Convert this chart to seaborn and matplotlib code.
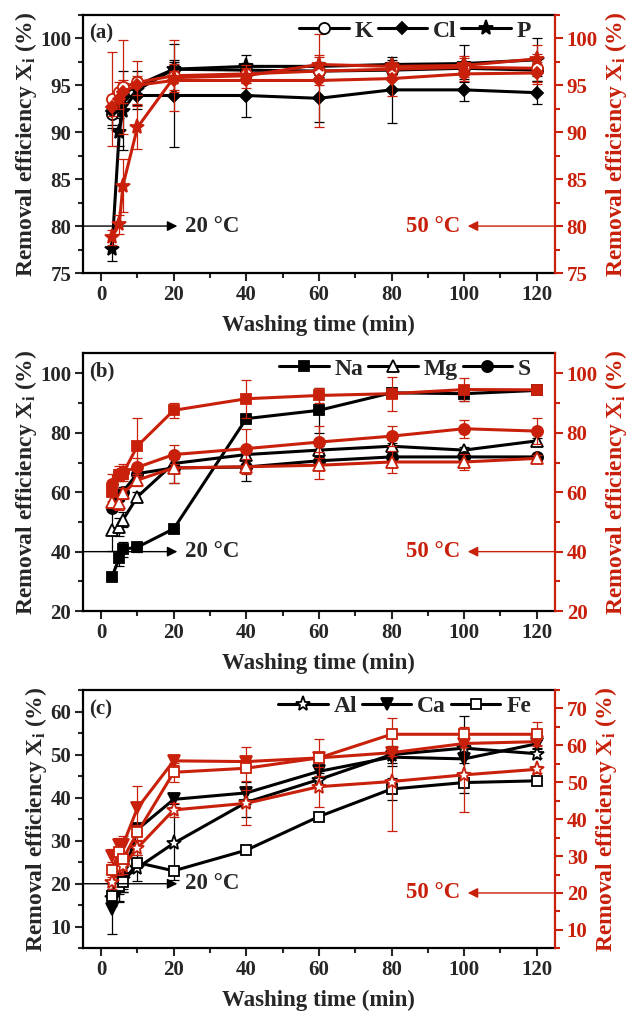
import matplotlib
matplotlib.use('Agg')
import matplotlib.pyplot as plt
import seaborn as sns
from matplotlib.lines import Line2D
from matplotlib.ticker import MultipleLocator

sns.set_theme(style='ticks')
plt.rcParams['font.family'] = ['Liberation Serif', 'DejaVu Serif']
plt.rcParams['font.weight'] = 'bold'
plt.rcParams['axes.labelweight'] = 'bold'
plt.rcParams['mathtext.fontset'] = 'custom'
plt.rcParams['mathtext.rm'] = 'Liberation Serif'
plt.rcParams['mathtext.bf'] = 'Liberation Serif:bold'

red = '#C8200A'
time = [3, 5, 6, 10, 20, 40, 60, 80, 100, 120]

# (a) K, Cl, P
k_20 = [91.9, 93.3, 94.0, 95.0, 96.7, 96.6, 96.5, 96.6, 96.8, 96.6]
k_20_err = [1.5, 1.0, 0.8, 0.8, 0.8, 0.8, 0.6, 0.4, 0.5, 0.6]
cl_20 = [92.3, 93.2, 93.7, 93.9, 93.9, 93.9, 93.6, 94.5, 94.5, 94.2]
cl_20_err = [1.5, 1.2, 1.5, 1.0, 5.5, 2.3, 2.5, 3.5, 1.2, 1.2]
p_20 = [77.6, 90.0, 92.3, 94.5, 96.7, 97.0, 97.0, 97.2, 97.3, 97.7]
p_20_err = [1.3, 1.5, 4.2, 2.0, 1.0, 1.2, 0.5, 0.5, 2.0, 2.3]
k_50 = [93.5, 94.3, 94.8, 95.3, 96.0, 96.2, 96.5, 96.7, 96.9, 96.8]
k_50_err = [5.0, 1.0, 5.0, 2.3, 3.8, 1.0, 1.5, 0.6, 1.0, 1.5]
cl_50 = [92.7, 93.5, 94.3, 95.0, 95.5, 95.5, 95.5, 95.7, 96.2, 96.3]
cl_50_err = [1.0, 1.0, 1.2, 1.0, 1.0, 0.8, 5.0, 1.8, 0.8, 1.2]
p_50 = [78.8, 80.2, 84.3, 90.5, 95.8, 96.0, 97.2, 97.0, 97.1, 97.8]
p_50_err = [0.8, 1.0, 2.8, 2.3, 1.5, 0.8, 1.0, 0.5, 1.0, 1.5]

# (b) Na, Mg, S
na_20 = [31.6, 37.8, 40.8, 41.5, 47.7, 84.8, 87.6, 93.5, 93.2, 94.3]
na_20_err = [1.0, 2.5, 2.5, 1.5, 1.0, 1.0, 7.5, 1.0, 2.5, 1.0]
mg_20 = [47.3, 48.2, 50.7, 58.5, 69.7, 72.7, 74.2, 75.5, 74.2, 77.3]
mg_20_err = [7.0, 3.0, 2.5, 1.5, 1.5, 1.5, 1.5, 1.0, 1.0, 1.0]
s_20 = [54.6, 58.5, 60.2, 66.3, 68.2, 68.5, 70.6, 71.9, 71.9, 71.9]
s_20_err = [1.0, 1.5, 1.5, 1.0, 5.0, 4.7, 2.5, 1.0, 1.0, 1.0]
na_50 = [60.2, 65.8, 66.3, 75.6, 87.6, 91.5, 92.6, 93.2, 94.6, 94.5]
na_50_err = [3.0, 2.0, 2.5, 9.5, 2.5, 6.4, 2.5, 5.7, 4.0, 1.0]
mg_50 = [56.8, 56.5, 59.6, 64.1, 68.2, 68.6, 69.1, 70.2, 70.2, 71.4]
mg_50_err = [2.0, 2.5, 2.0, 2.0, 5.0, 2.5, 4.5, 3.6, 2.8, 1.0]
s_50 = [62.8, 66.3, 66.9, 68.4, 72.7, 74.7, 76.9, 78.9, 81.4, 80.6]
s_50_err = [3.5, 2.5, 2.5, 3.0, 3.3, 6.7, 5.5, 3.3, 3.0, 4.4]

# (c) Al, Ca, Fe
al_20 = [16.8, 20.0, 21.0, 23.7, 29.4, 38.9, 44.2, 50.0, 51.5, 50.2]
al_20_err = [2.0, 4.0, 3.0, 3.0, 8.5, 3.5, 1.5, 2.0, 7.4, 1.0]
ca_20 = [14.1, 18.7, 21.0, 32.6, 39.6, 41.1, 46.1, 49.4, 49.0, 52.5]
ca_20_err = [5.8, 3.0, 3.0, 1.0, 1.0, 2.5, 1.0, 2.0, 1.0, 1.0]
fe_20 = [17.2, 19.5, 20.3, 24.9, 23.0, 27.8, 35.6, 42.0, 43.5, 43.9]
fe_20_err = [1.5, 2.0, 1.5, 1.0, 1.0, 0.8, 0.8, 2.5, 2.4, 1.0]
al_50 = [23.1, 26.8, 27.2, 32.2, 42.5, 44.3, 48.8, 50.2, 52.0, 53.5]
al_50_err = [2.0, 2.0, 2.0, 2.0, 2.0, 6.0, 5.4, 13.4, 10.0, 1.0]
ca_50 = [29.9, 33.0, 33.0, 43.0, 55.8, 55.6, 56.6, 58.0, 60.5, 61.0]
ca_50_err = [2.0, 2.0, 2.5, 6.0, 1.0, 1.0, 1.0, 1.0, 1.0, 1.0]
fe_50 = [26.3, 31.2, 29.2, 36.4, 52.7, 53.8, 56.6, 63.0, 63.0, 63.0]
fe_50_err = [2.0, 2.5, 2.0, 2.0, 2.5, 5.8, 5.0, 4.5, 2.0, 3.2]

panels = [
    dict(tag='(a)', names=['K', 'Cl', 'P'], markers=['o', 'D', '*'], filled=[False, True, True],
         s20=[k_20, cl_20, p_20], e20=[k_20_err, cl_20_err, p_20_err],
         s50=[k_50, cl_50, p_50], e50=[k_50_err, cl_50_err, p_50_err],
         ylim=(75, 102.5), ylim2=(75, 102.5), major=5, minor=2.5, major2=5, minor2=2.5,
         ytemp=80, ytemp2=80),
    dict(tag='(b)', names=['Na', 'Mg', 'S'], markers=['s', '^', 'o'], filled=[True, False, True],
         s20=[na_20, mg_20, s_20], e20=[na_20_err, mg_20_err, s_20_err],
         s50=[na_50, mg_50, s_50], e50=[na_50_err, mg_50_err, s_50_err],
         ylim=(20, 107), ylim2=(20, 107), major=20, minor=10, major2=20, minor2=10,
         ytemp=40, ytemp2=40),
    dict(tag='(c)', names=['Al', 'Ca', 'Fe'], markers=['*', 'v', 's'], filled=[False, True, False],
         s20=[al_20, ca_20, fe_20], e20=[al_20_err, ca_20_err, fe_20_err],
         s50=[al_50, ca_50, fe_50], e50=[al_50_err, ca_50_err, fe_50_err],
         ylim=(5, 65), ylim2=(5, 75), major=10, minor=5, major2=10, minor2=5,
         ytemp=20, ytemp2=20),
]

msize = {'o': 8, 'D': 6.5, '*': 11, 's': 7.5, '^': 8, 'v': 8}


def draw(ax, y, err, color, marker, filled, ecol):
    ax.errorbar(time, y, yerr=err, fmt='none', ecolor=ecol, elinewidth=0.9,
                capsize=3.5, capthick=0.9, zorder=2)
    sns.lineplot(x=time, y=y, ax=ax, color=color, lw=2.2, marker=marker,
                 markersize=msize[marker], markerfacecolor=color if filled else 'white',
                 markeredgecolor=color, markeredgewidth=1.3, zorder=3)


fig = plt.figure(figsize=(6.3, 10.15), dpi=100)
bottoms = [0.731, 0.398, 0.0657]
ylab = r'Removal efficiency $\mathbf{X_i}$ (%)'

for p, b in zip(panels, bottoms):
    ax = fig.add_axes([0.1317, b, 0.749, 0.2545])
    ax2 = ax.twinx()
    for y, e, m, f in zip(p['s20'], p['e20'], p['markers'], p['filled']):
        draw(ax, y, e, 'black', m, f, 'black')
    for y, e, m, f in zip(p['s50'], p['e50'], p['markers'], p['filled']):
        draw(ax2, y, e, red, m, f, red)

    ax.set_xlim(-5, 125)
    ax.set_ylim(*p['ylim'])
    ax2.set_ylim(*p['ylim2'])
    ax.xaxis.set_major_locator(MultipleLocator(20))
    ax.xaxis.set_minor_locator(MultipleLocator(10))
    ax.yaxis.set_major_locator(MultipleLocator(p['major']))
    ax.yaxis.set_minor_locator(MultipleLocator(p['minor']))
    ax2.yaxis.set_major_locator(MultipleLocator(p['major2']))
    ax2.yaxis.set_minor_locator(MultipleLocator(p['minor2']))

    for sp in ax.spines.values():
        sp.set_linewidth(1.6)
        sp.set_color('black')
    ax.spines['right'].set_visible(False)
    for k in ['left', 'top', 'bottom']:
        ax2.spines[k].set_visible(False)
    ax2.spines['right'].set_color(red)
    ax2.spines['right'].set_linewidth(1.6)

    ax.tick_params(which='major', direction='out', length=6, width=1.5, labelsize=15, pad=2.5)
    ax.tick_params(which='minor', direction='out', length=3.5, width=1.5)
    ax2.tick_params(which='major', direction='out', length=6, width=1.5, labelsize=15,
                    colors=red, pad=2.5)
    ax2.tick_params(which='minor', direction='out', length=3.5, width=1.5, colors=red)
    for lab in ax.get_xticklabels() + ax.get_yticklabels() + ax2.get_yticklabels():
        lab.set_fontweight('bold')

    ax.set_xlabel('Washing time (min)', fontsize=16.5, fontweight='bold', labelpad=7)
    ax.set_ylabel(ylab, fontsize=17, fontweight='bold', labelpad=1)
    ax2.set_ylabel(ylab, fontsize=17, fontweight='bold', color=red, labelpad=4)

    ax.text(0.012, 0.965, p['tag'], transform=ax.transAxes, fontsize=15,
            fontweight='bold', va='top', ha='left')

    ax.annotate('', xy=(21, p['ytemp']), xytext=(-5, p['ytemp']),
                arrowprops=dict(arrowstyle='-|>', color='black', lw=1,
                                mutation_scale=15, shrinkA=0, shrinkB=0))
    ax.text(23, p['ytemp'], '20 °C', fontsize=16.5, fontweight='bold', va='center', ha='left')
    ax2.annotate('', xy=(101, p['ytemp2']), xytext=(125, p['ytemp2']),
                 arrowprops=dict(arrowstyle='-|>', color=red, lw=1,
                                 mutation_scale=15, shrinkA=0, shrinkB=0))
    ax2.text(99, p['ytemp2'], '50 °C', fontsize=16.5, fontweight='bold', va='center',
             ha='right', color=red)

    handles = [Line2D([], [], color='black', lw=2.2, marker=m, markersize=msize[m],
                      markerfacecolor='black' if f else 'white', markeredgecolor='black',
                      markeredgewidth=1.3)
               for m, f in zip(p['markers'], p['filled'])]
    leg = ax2.legend(handles, p['names'], loc='upper right', ncol=3, frameon=False,
                     prop={'size': 17, 'weight': 'bold'}, handlelength=2.1,
                     handletextpad=0.25, columnspacing=0.2, borderaxespad=0.1,
                     bbox_to_anchor=(0.975, 1.025))

fig.savefig('out.png', dpi=100)
